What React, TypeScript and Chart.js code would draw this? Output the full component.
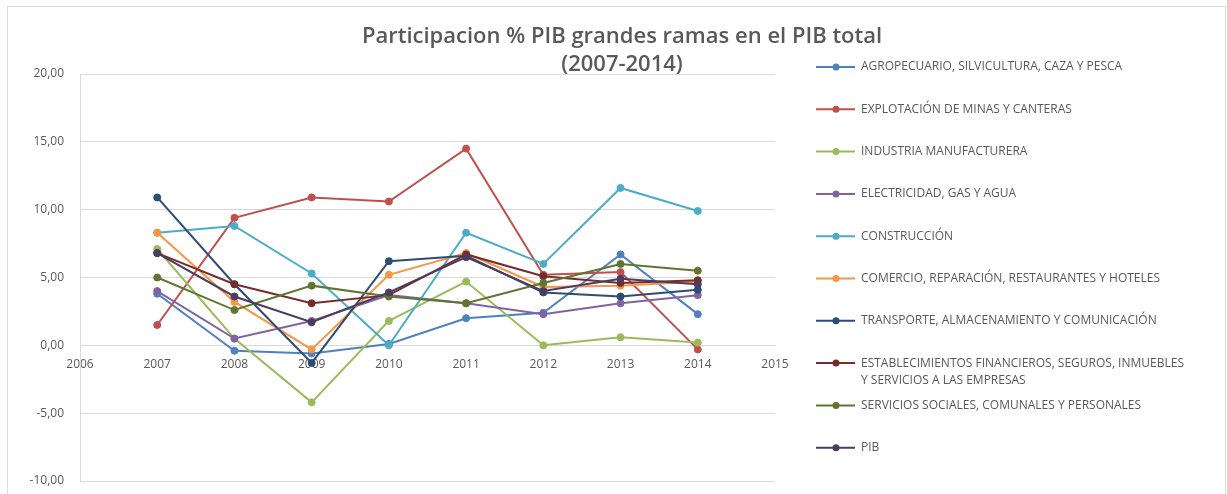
import React, { useEffect, useRef } from 'react';
import { Chart, registerables } from 'chart.js';

Chart.register(...registerables);

const years = [2007, 2008, 2009, 2010, 2011, 2012, 2013, 2014];

const agropecuario = [3.8, -0.4, -0.6, 0.1, 2.0, 2.4, 6.7, 2.3];
const minas = [1.5, 9.4, 10.9, 10.6, 14.5, 5.2, 5.4, -0.3];
const industria = [7.1, 0.5, -4.2, 1.8, 4.7, 0.0, 0.6, 0.2];
const electricidad = [4.0, 0.5, 1.8, 3.7, 3.1, 2.3, 3.1, 3.7];
const construccion = [8.3, 8.8, 5.3, 0.0, 8.3, 6.0, 11.6, 9.9];
const comercio = [8.3, 3.2, -0.3, 5.2, 6.8, 4.3, 4.4, 4.7];
const transporte = [10.9, 4.5, -1.3, 6.2, 6.6, 3.9, 3.6, 4.1];
const financieros = [6.8, 4.5, 3.1, 3.7, 6.7, 5.1, 4.6, 4.8];
const servicios = [5.0, 2.6, 4.4, 3.6, 3.1, 4.6, 6.0, 5.5];
const pib = [6.8, 3.6, 1.7, 3.9, 6.5, 4.0, 4.9, 4.5];

const seriesLabels = [
  'AGROPECUARIO, SILVICULTURA, CAZA Y PESCA',
  'EXPLOTACIÓN DE MINAS Y CANTERAS',
  'INDUSTRIA MANUFACTURERA',
  'ELECTRICIDAD, GAS Y AGUA',
  'CONSTRUCCIÓN',
  'COMERCIO, REPARACIÓN, RESTAURANTES Y HOTELES',
  'TRANSPORTE, ALMACENAMIENTO Y COMUNICACIÓN',
  'ESTABLECIMIENTOS FINANCIEROS, SEGUROS, INMUEBLES\nY SERVICIOS A LAS EMPRESAS',
  'SERVICIOS SOCIALES, COMUNALES Y PERSONALES',
  'PIB',
];

const seriesValues = [
  agropecuario, minas, industria, electricidad, construccion,
  comercio, transporte, financieros, servicios, pib,
];

const seriesColors = [
  '#4F81BD', '#C0504D', '#9BBB59', '#8064A2', '#4BACC6',
  '#F79646', '#2C4D75', '#772C2A', '#5F7530', '#4D3B62',
];

const titleLines = ['Participacion % PIB grandes ramas en el PIB total', '(2007-2014)'];

const xMin = 2006;
const xMax = 2015;
const yMin = -10;
const yMax = 20;
const yStep = 5;

const TEXT = '#595959';
const GRID = '#d9d9d9';

const decorPlugin = {
  id: 'decor',
  beforeDraw(chart: any) {
    const ctx = chart.ctx;
    ctx.save();
    ctx.fillStyle = '#ffffff';
    ctx.fillRect(0, 0, chart.width, chart.height);
    ctx.strokeStyle = GRID;
    ctx.lineWidth = 1;
    ctx.strokeRect(7.5, 6.5, 1218, 492);
    ctx.restore();
  },
  afterDraw(chart: any) {
    const ctx = chart.ctx;
    ctx.save();
    // title
    ctx.fillStyle = TEXT;
    ctx.textAlign = 'center';
    ctx.textBaseline = 'middle';
    ctx.font = '600 22px "Open Sans"';
    ctx.fillText(titleLines[0], 622, 37);
    ctx.fillText(titleLines[1], 622, 65);
    // legend
    ctx.font = '12px "Open Sans"';
    ctx.textAlign = 'left';
    seriesLabels.forEach((label, i) => {
      const y = 67 + 42.3 * i;
      const color = seriesColors[i];
      ctx.strokeStyle = color;
      ctx.lineWidth = 2;
      ctx.beginPath();
      ctx.moveTo(816, y);
      ctx.lineTo(855, y);
      ctx.stroke();
      ctx.fillStyle = color;
      ctx.beginPath();
      ctx.arc(836, y, 3.5, 0, Math.PI * 2);
      ctx.fill();
      ctx.fillStyle = TEXT;
      label.split('\n').forEach((ln, k) => {
        ctx.fillText(ln, 861, y + k * 17);
      });
    });
    ctx.restore();
  },
};

export default function App() {
  const ref = useRef<HTMLCanvasElement | null>(null);

  useEffect(() => {
    if (!ref.current) return;
    const datasets = seriesValues.map((vals, i) => ({
      label: seriesLabels[i].replace('\n', ' '),
      data: vals.map((v, j) => ({ x: years[j], y: v })),
      borderColor: seriesColors[i],
      backgroundColor: seriesColors[i],
      pointBackgroundColor: seriesColors[i],
      pointBorderColor: seriesColors[i],
      borderWidth: 2,
      pointRadius: 3.5,
      pointBorderWidth: 1,
      tension: 0,
      fill: false,
      order: seriesValues.length - 1 - i,
    }));

    const chart = new Chart(ref.current, {
      type: 'line',
      data: { datasets },
      plugins: [decorPlugin],
      options: {
        responsive: false,
        animation: false,
        layout: { padding: { top: 74, bottom: 13, left: 0, right: 452 } },
        plugins: {
          legend: { display: false },
          title: { display: false },
          tooltip: { enabled: false },
        },
        scales: {
          x: {
            type: 'linear',
            min: xMin,
            max: xMax,
            position: { y: 0 } as any,
            grid: { display: false, drawTicks: false, tickLength: 0 },
            border: { display: true, color: GRID, width: 1 },
            ticks: {
              stepSize: 1,
              padding: 12,
              color: TEXT,
              font: { family: '"Open Sans"', size: 12 },
              callback: (v: any) => String(v),
            },
          },
          y: {
            type: 'linear',
            min: yMin,
            max: yMax,
            grid: { color: GRID, drawTicks: true, tickLength: 13, tickColor: 'rgba(0,0,0,0)' },
            border: { display: true, color: GRID, width: 1 },
            ticks: {
              stepSize: yStep,
              padding: 3,
              color: TEXT,
              font: { family: '"Open Sans"', size: 12 },
              callback: (v: any) => Number(v).toFixed(2).replace('.', ','),
            },
            afterFit: (scale: any) => {
              scale.width = 80;
            },
          },
        },
      },
    });
    return () => chart.destroy();
  }, []);

  return (
    <div style={{ position: 'absolute', left: 0, top: 0, width: 1227, height: 494, background: '#fff' }}>
      <canvas ref={ref} width={1227} height={494} style={{ display: 'block' }} />
    </div>
  );
}
